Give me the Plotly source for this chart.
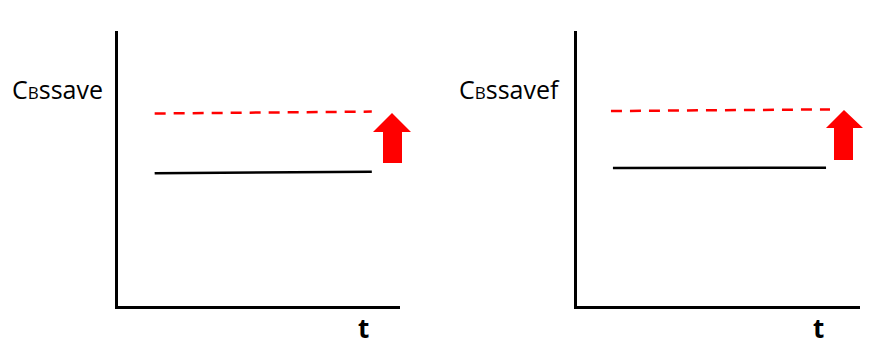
import plotly.graph_objects as go

# ---- data (arbitrary units) ----
t_left_base = [1.3, 9.0]
c_left_base = [4.83, 4.88]
t_left_up = [1.3, 9.0]
c_left_up = [7.0, 7.07]

t_right_base = [1.27, 8.8]
c_right_base = [5.02, 5.03]
t_right_up = [1.2, 8.94]
c_right_up = [7.09, 7.15]

y_labels = ["C<span style='font-size:17px'>B</span>ssave",
            "C<span style='font-size:17px'>B</span>ssavef"]
x_label = "t"

W, H = 875, 347

def px(x):
    return x / W

def py(y):
    return 1 - y / H

fig = go.Figure()

line_black = dict(color="black", width=2.5)
line_red = dict(color="#ff0000", width=2.5, dash="11px,8px")

fig.add_trace(go.Scatter(x=t_left_base, y=c_left_base, mode="lines", line=line_black,
                         xaxis="x", yaxis="y", showlegend=False, hoverinfo="skip"))
fig.add_trace(go.Scatter(x=t_left_up, y=c_left_up, mode="lines", line=line_red,
                         xaxis="x", yaxis="y", showlegend=False, hoverinfo="skip"))
fig.add_trace(go.Scatter(x=t_right_base, y=c_right_base, mode="lines", line=line_black,
                         xaxis="x2", yaxis="y2", showlegend=False, hoverinfo="skip"))
fig.add_trace(go.Scatter(x=t_right_up, y=c_right_up, mode="lines", line=line_red,
                         xaxis="x2", yaxis="y2", showlegend=False, hoverinfo="skip"))

axis_common = dict(showgrid=False, zeroline=False, showticklabels=False, ticks="",
                   showline=True, linecolor="black", linewidth=2.5, fixedrange=True)

fig.update_layout(
    width=W, height=H,
    margin=dict(l=0, r=0, t=0, b=0),
    paper_bgcolor="white", plot_bgcolor="white",
    font=dict(family="Open Sans, sans-serif", color="black"),
    xaxis=dict(domain=[px(118), px(400)], range=[0, 10], anchor="y", **axis_common),
    yaxis=dict(domain=[py(306), py(31)], range=[0, 10], anchor="x", **axis_common),
    xaxis2=dict(domain=[px(577), px(860)], range=[0, 10], anchor="y2", **axis_common),
    yaxis2=dict(domain=[py(306), py(31)], range=[0, 10], anchor="x2", **axis_common),
)

# axis titles as annotations
fig.add_annotation(text=y_labels[0], x=px(10), y=py(89), xref="paper", yref="paper",
                   xanchor="left", yanchor="middle", showarrow=False, font=dict(size=25))
fig.add_annotation(text=y_labels[1], x=px(457), y=py(89), xref="paper", yref="paper",
                   xanchor="left", yanchor="middle", showarrow=False, font=dict(size=25))
fig.add_annotation(text="<b>" + x_label + "</b>", x=px(363), y=py(346.5), xref="paper", yref="paper",
                   xanchor="center", yanchor="bottom", showarrow=False, borderpad=0,
                   font=dict(size=26))
fig.add_annotation(text="<b>" + x_label + "</b>", x=px(818), y=py(346.5), xref="paper", yref="paper",
                   xanchor="center", yanchor="bottom", showarrow=False, borderpad=0,
                   font=dict(size=26))

# block arrows (decorative)
def arrow_path(tip_x, tip_y, head_l, head_r, head_y, sh_l, sh_r, bottom):
    pts = [(tip_x, tip_y), (head_r, head_y), (sh_r, head_y), (sh_r, bottom),
           (sh_l, bottom), (sh_l, head_y), (head_l, head_y)]
    return "M " + " L ".join(f"{px(x):.5f},{py(y):.5f}" for x, y in pts) + " Z"

fig.add_shape(type="path", xref="paper", yref="paper",
              path=arrow_path(392, 113, 373, 411, 132, 383, 402, 163),
              fillcolor="#ff0000", line=dict(width=0))
fig.add_shape(type="path", xref="paper", yref="paper",
              path=arrow_path(844, 110, 826, 863, 128, 834, 853, 160),
              fillcolor="#ff0000", line=dict(width=0))

fig.write_html("out.html", config={"displayModeBar": False},
               post_script="document.body.style.margin='0';document.body.style.overflow='hidden';")
